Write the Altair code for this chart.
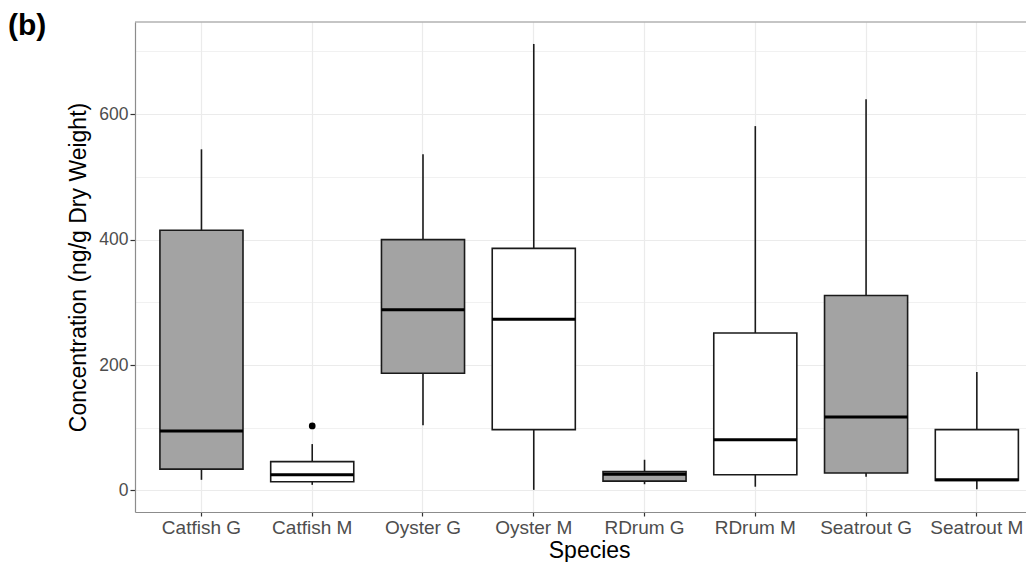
import altair as alt
import pandas as pd

# ---- data ----
species = ["Catfish G", "Catfish M", "Oyster G", "Oyster M",
           "RDrum G", "RDrum M", "Seatrout G", "Seatrout M"]
tissue = ["G", "M", "G", "M", "G", "M", "G", "M"]
lower = [17, 9, 104, 1, 10, 6, 22, 2]
q1 = [34, 14, 187, 97, 15, 25, 28, 16]
median = [95, 25, 288, 273, 26, 81, 117, 17]
q3 = [415, 46, 400, 386, 30, 251, 311, 97]
upper = [544, 74, 536, 712, 49, 581, 624, 189]
outlier_species = ["Catfish M"]
outlier_values = [103]
y_ticks = [0, 100, 200, 300, 400, 500, 600, 700]

df = pd.DataFrame({"species": species, "tissue": tissue, "lower": lower,
                   "q1": q1, "median": median, "q3": q3, "upper": upper})
out_df = pd.DataFrame({"species": outlier_species, "value": outlier_values})

FONT = "Liberation Sans"
YTITLE = "Concentration (ng/g Dry Weight)"

x_scale = alt.Scale(domain=species, range=[0, 908.3], paddingInner=0, paddingOuter=0.1)
y_scale = alt.Scale(domain=[-34.3, 747], nice=False, zero=False)

x_axis = alt.Axis(title="Species", bandPosition=0.5, labelAngle=0, grid=True,
                  labelFont=FONT, labelFontSize=19, labelColor="#4d4d4d",
                  titleFont=FONT, titleFontSize=23, titleColor="black",
                  titleFontWeight="normal",
                  tickSize=4, tickColor="#333333", tickWidth=1.2,
                  domainColor="#8c8c8c", domainWidth=1.2,
                  gridColor="#ebebeb", gridWidth=1.2,
                  labelPadding=2, titlePadding=2)

minor = "datum.value % 200 != 0"
y_axis = alt.Axis(title=YTITLE, values=y_ticks,
                  labelExpr="datum.value % 200 == 0 ? datum.label : ''",
                  labelFont=FONT, labelFontSize=17.5, labelColor="#4d4d4d",
                  titleFont=FONT, titleFontSize=23, titleColor="black",
                  titleFontWeight="normal",
                  tickSize=5, tickColor="#333333", tickWidth=1.2,
                  tickOpacity={"condition": {"test": minor, "value": 0}, "value": 1},
                  gridColor="#ebebeb",
                  gridWidth={"condition": {"test": minor, "value": 0.7}, "value": 1.2},
                  domainColor="#8c8c8c", domainWidth=1.2,
                  labelPadding=2, titlePadding=8)

X = alt.X("species:N", scale=x_scale, axis=x_axis, sort=species)

base = alt.Chart(df)

whisk_lo = base.mark_rule(color="#1a1a1a", strokeWidth=1.6).encode(
    x=X, y=alt.Y("lower:Q", scale=y_scale, axis=y_axis, title=YTITLE), y2="q1:Q")
whisk_hi = base.mark_rule(color="#1a1a1a", strokeWidth=1.6).encode(
    x=X, y=alt.Y("q3:Q", scale=y_scale, axis=y_axis, title=YTITLE), y2="upper:Q")
box = base.mark_bar(width=alt.RelativeBandSize(0.75), stroke="#1a1a1a",
                    strokeWidth=1.6).encode(
    x=X, y=alt.Y("q1:Q", scale=y_scale, axis=y_axis, title=YTITLE), y2="q3:Q",
    fill=alt.Fill("tissue:N", scale=alt.Scale(domain=["G", "M"],
                                              range=["#a3a3a3", "#ffffff"]),
                  legend=None))
med = base.mark_bar(width=alt.RelativeBandSize(0.75), stroke="black",
                    strokeWidth=3, fillOpacity=0).encode(
    x=X, y=alt.Y("median:Q", scale=y_scale, axis=y_axis, title=YTITLE), y2="median:Q")
outl = alt.Chart(out_df).mark_point(filled=True, color="black", size=45,
                                     opacity=1).encode(
    x=X, y=alt.Y("value:Q", scale=y_scale, axis=y_axis, title=YTITLE))

top_border = alt.Chart(pd.DataFrame({"a": [0]})).mark_rule(
    color="#8c8c8c", strokeWidth=1.2).encode(
    x=alt.value(0), x2=alt.value(908.3), y=alt.value(0))

panel_label = alt.Chart(pd.DataFrame({"t": ["(b)"]})).mark_text(
    font=FONT, fontSize=30, fontWeight="bold", align="left",
    baseline="alphabetic", color="black").encode(
    text="t:N", x=alt.value(-127), y=alt.value(13))

chart = alt.layer(whisk_lo, whisk_hi, box, med, outl, top_border, panel_label).properties(
    width=891, height=490,
    autosize=alt.AutoSizeParams(type="none"),
    padding={"left": 127, "top": 14, "right": 0, "bottom": 50},
    background="white",
).configure_view(stroke=None)

chart.save("out.html", embed_options={"renderer": "svg", "actions": False})
